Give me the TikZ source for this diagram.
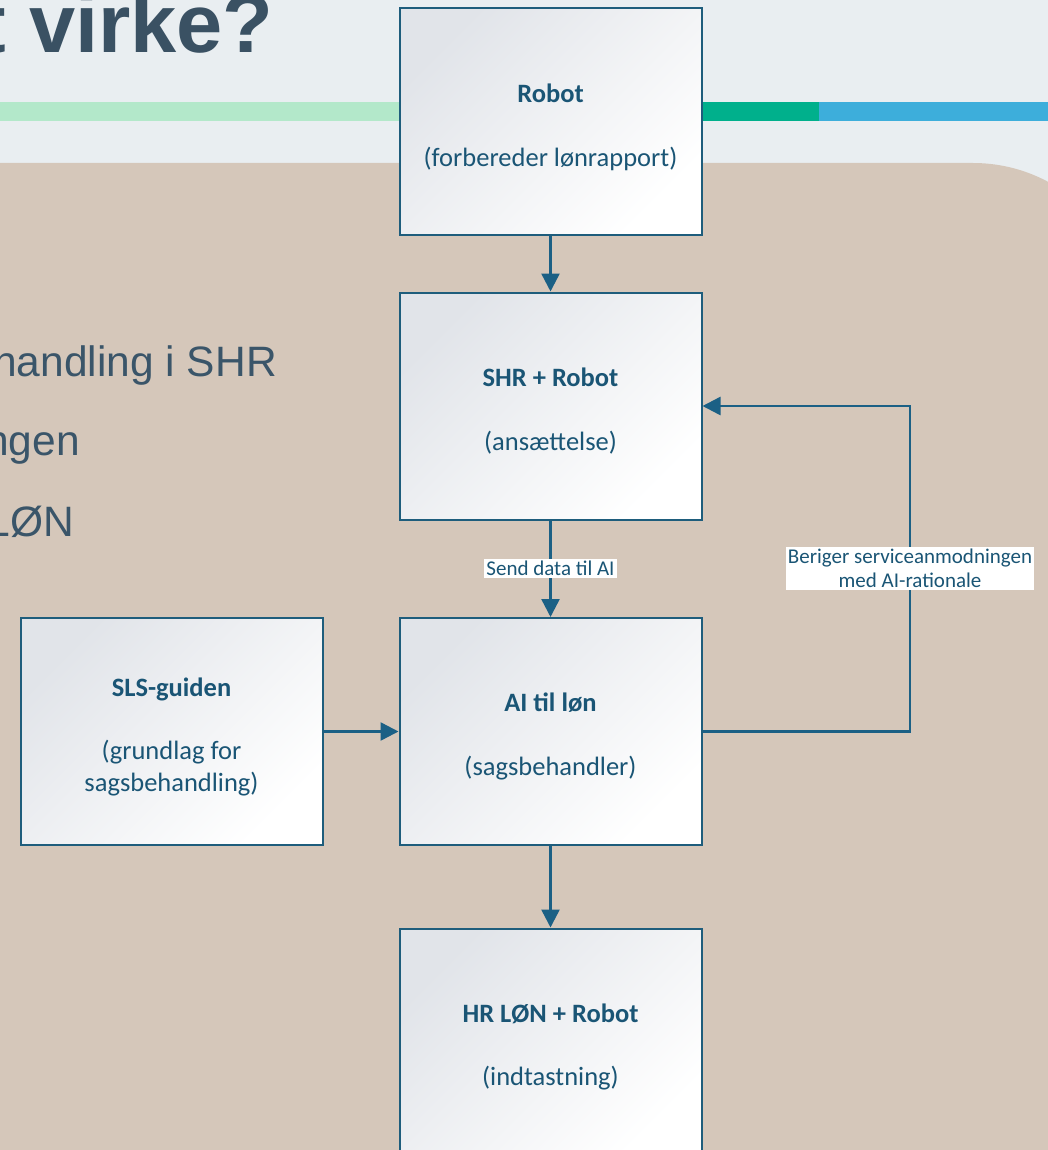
\documentclass[tikz,border=0pt]{standalone}
\usepackage{fontspec}
\setmainfont{Carlito}
\newfontfamily\arialfont{Liberation Sans}
\usetikzlibrary{arrows.meta}
\definecolor{bgtop}{HTML}{E9EEF1}
\definecolor{tanbg}{HTML}{D5C7BA}
\definecolor{barLight}{HTML}{B3E8CA}
\definecolor{barGreen}{HTML}{00B08C}
\definecolor{barBlue}{HTML}{3DAEDB}
\definecolor{titleC}{HTML}{3A5163}
\definecolor{bulletC}{HTML}{3A5569}
\definecolor{boxLine}{HTML}{1E5D7C}
\definecolor{arrC}{HTML}{1B6085}
\definecolor{boxText}{HTML}{1A5575}
\definecolor{boxShade}{HTML}{E1E4E9}
\definecolor{boxMid}{HTML}{F9FAFB}
\begin{document}
\begin{tikzpicture}[x=1pt,y=-1pt,
  flowbox/.style={draw=boxLine, line width=2pt, top color=boxShade, middle color=boxMid, bottom color=white, shading angle=45,
    minimum width=302pt, minimum height=227pt, inner sep=0pt, text=boxText, align=center,
    font=\fontsize{26.5}{31.5}\selectfont},
  arr/.style={draw=arrC, line width=2.5pt, -{Triangle[length=18pt,width=18pt]}},
  lab/.style={fill=white, text=boxText, font=\fontsize{21}{24}\selectfont, inner sep=2pt, align=center},
  bullet/.style={anchor=base east, inner sep=0pt, text=bulletC, font=\arialfont\fontsize{42.5}{50}\selectfont}]
\useasboundingbox (0,0) rectangle (1048,1150);
\clip (0,0) rectangle (1048,1150);
% backgrounds
\fill[bgtop] (0,0) rectangle (1048,1150);
\fill[tanbg] (-10,163) -- (973,163) .. controls (1061,163) and (1133,235) .. (1133,323) -- (1133,1200) -- (-10,1200) -- cycle;
\fill[barLight] (0,102) rectangle (560,121);
\fill[barGreen] (560,102) rectangle (819,121);
\fill[barBlue] (819,102) rectangle (1048,121);
% title and bullet text
\node[anchor=base east, inner sep=0pt, text=titleC, font=\arialfont\bfseries\fontsize{83}{90}\selectfont] (title) at (274,53) {t virke?};
\node[bullet] (b1) at (277,376) {handling i SHR};
\node[bullet] (b2) at (80,455) {ngen};
\node[bullet] (b3) at (74,536) {LØN};
% boxes
\node[flowbox] (robot) at (550.5,122) {\rule{0pt}{29pt}\textbf{Robot}\\[32pt](forbereder lønrapport)};
\node[flowbox] (shr) at (550.5,406) {\rule{0pt}{29pt}\textbf{SHR + Robot}\\[32pt](ansættelse)};
\node[flowbox] (ai) at (550.5,731.5) {\rule{0pt}{29pt}\textbf{AI til løn}\\[32pt](sagsbehandler)};
\node[flowbox] (hr) at (550.5,1042) {\rule{0pt}{29pt}\textbf{HR LØN + Robot}\\[32pt](indtastning)};
\node[flowbox] (sls) at (171.5,731.5) {\rule{0pt}{29pt}\textbf{SLS-guiden}\\[32pt](grundlag for\\sagsbehandling)};
% connectors
\coordinate (fb1) at (910,731.5);
\coordinate (fb2) at (910,406);
\draw[arr] (robot) -- (shr);
\draw[arr] (shr) -- node[lab] (l1) {Send data til AI} (ai);
\draw[arr] (sls) -- (ai);
\draw[arr] (ai) -- (hr);
\draw[arr] (ai.east) -- (fb1) -- node[lab, pos=0.5] (l2) {Beriger serviceanmodningen\\med AI-rationale} (fb2) -- (shr.east);
\end{tikzpicture}
\end{document}
